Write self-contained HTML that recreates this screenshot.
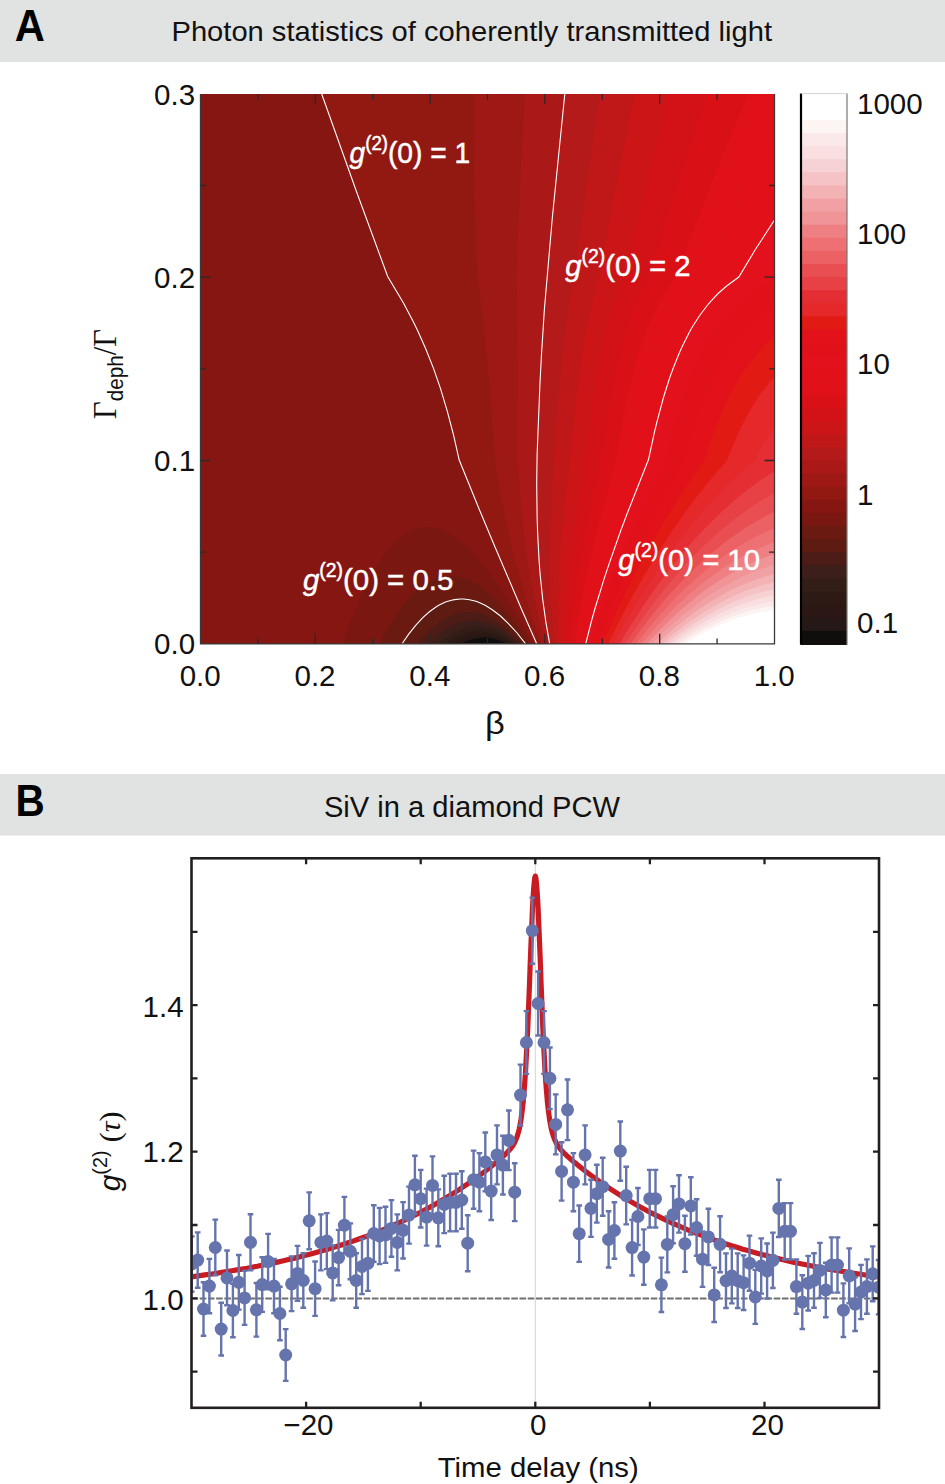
<!DOCTYPE html>
<html><head><meta charset="utf-8">
<style>
html,body{margin:0;padding:0;background:#fff;}
body{width:945px;height:1484px;overflow:hidden;position:relative;}
svg{position:absolute;left:0;top:0;}
text{font-family:"Liberation Sans",sans-serif;}
</style></head><body>
<svg width="945" height="1484" viewBox="0 0 945 1484">
<rect x="0" y="0" width="945" height="62" fill="#E1E2E2"/>
<rect x="0" y="774" width="945" height="61.5" fill="#E1E2E2"/>
<rect x="200.5" y="94.0" width="574.0" height="549.8" fill="#0F0E0C"/>
<path fill="#251816" fill-rule="evenodd" d="M200.5 94.0 774.5 94.0 774.5 643.8 507.2 643.8 501.5 641.2 495.5 639.2 489.5 638.0 483.8 637.6 478.0 638.0 472.0 639.2 466.0 641.2 460.3 643.8 200.5 643.8Z"/>
<path fill="#2B1814" fill-rule="evenodd" d="M200.5 94.0 774.5 94.0 774.5 643.8 509.2 643.8 502.8 640.4 496.0 637.9 489.5 636.4 482.8 635.9 476.0 636.4 469.5 637.8 462.8 640.4 456.2 643.8 200.5 643.8Z"/>
<path fill="#2E1A14" fill-rule="evenodd" d="M200.5 94.0 774.5 94.0 774.5 643.8 511.5 643.8 504.0 639.4 500.2 637.6 496.2 636.1 492.5 635.0 488.8 634.2 485.0 633.8 481.2 633.6 477.5 633.8 473.8 634.2 470.0 635.0 466.2 636.1 458.8 639.3 451.3 643.8 200.5 643.8Z"/>
<path fill="#331D17" fill-rule="evenodd" d="M200.5 94.0 774.5 94.0 774.5 643.8 513.9 643.8 509.5 640.6 505.2 638.0 501.0 635.7 496.8 633.9 492.5 632.4 488.2 631.4 483.8 630.7 479.5 630.5 475.2 630.7 470.8 631.4 466.5 632.4 462.2 633.9 458.0 635.7 453.8 638.0 449.5 640.7 445.3 643.8 200.5 643.8Z"/>
<path fill="#3C1E1A" fill-rule="evenodd" d="M200.5 94.0 774.5 94.0 774.5 643.8 516.5 643.8 511.5 639.7 506.5 636.1 501.5 633.1 496.5 630.6 491.5 628.7 486.8 627.4 482.0 626.6 477.0 626.3 472.0 626.6 467.2 627.4 462.5 628.7 457.5 630.7 452.5 633.2 447.8 636.2 443.0 639.6 438.1 643.8 200.5 643.8Z"/>
<path fill="#4D1C17" fill-rule="evenodd" d="M200.5 94.0 774.5 94.0 774.5 643.8 519.4 643.8 513.5 638.3 507.8 633.6 502.0 629.6 496.2 626.3 490.5 623.7 484.8 621.9 479.2 620.8 473.5 620.5 467.8 620.9 462.2 622.0 456.8 623.8 451.2 626.3 445.5 629.7 440.0 633.7 434.5 638.4 429.0 643.8 200.5 643.8Z"/>
<path fill="#5E1B12" fill-rule="evenodd" d="M200.5 94.0 774.5 94.0 774.5 643.8 522.4 643.8 515.5 636.3 508.8 629.9 502.0 624.4 495.2 619.9 488.5 616.4 482.0 614.0 475.2 612.4 468.8 611.9 462.2 612.4 455.8 613.9 449.2 616.5 443.0 619.8 436.5 624.4 430.2 629.8 423.8 636.3 417.4 643.8 200.5 643.8Z"/>
<path fill="#6B1A12" fill-rule="evenodd" d="M200.5 94.0 774.5 94.0 774.5 643.8 525.7 643.8 517.2 633.1 509.0 624.0 501.0 616.4 493.0 610.1 485.0 605.1 481.0 603.1 477.2 601.6 473.2 600.4 469.5 599.5 465.5 598.9 461.8 598.8 458.0 598.9 454.0 599.5 450.2 600.3 446.5 601.5 442.8 603.1 439.0 605.0 435.2 607.3 431.5 609.9 424.0 616.3 416.6 624.0 409.2 633.2 401.9 643.8 200.5 643.8Z"/>
<path fill="#7A1710" fill-rule="evenodd" d="M200.5 94.0 774.5 94.0 774.5 643.8 529.2 643.8 518.2 627.6 507.8 613.7 497.7 602.3 492.8 597.3 487.8 592.8 482.8 588.8 478.0 585.4 473.2 582.6 468.5 580.2 463.8 578.4 459.2 577.1 454.5 576.3 450.0 576.1 445.5 576.3 441.0 577.1 436.5 578.4 432.0 580.2 427.5 582.6 423.0 585.5 418.5 589.0 414.2 592.8 409.9 597.3 405.5 602.3 401.2 607.8 396.8 614.0 388.2 627.8 379.6 643.8 200.5 643.8Z"/>
<path fill="#861612" fill-rule="evenodd" d="M200.5 94.0 774.5 94.0 774.5 643.8 532.8 643.8 517.0 615.4 509.5 602.9 502.2 591.4 495.0 580.7 488.2 571.3 481.5 562.7 475.0 555.2 468.8 548.7 462.5 542.9 456.2 538.0 450.2 534.0 444.2 530.9 438.5 528.7 432.8 527.4 427.0 527.0 421.2 527.5 415.8 528.8 410.3 531.0 404.8 534.2 399.3 538.3 394.0 543.3 388.8 549.1 383.5 555.9 378.2 563.7 373.1 572.3 368.0 581.8 362.9 592.3 357.8 603.8 352.9 616.0 347.9 629.3 342.8 643.8 200.5 643.8Z"/>
<path fill="#921812" fill-rule="evenodd" d="M321.7 94.0 774.5 94.0 774.5 643.8 536.7 643.8 517.4 599.5 498.1 554.5 478.6 507.8 459.3 460.5 453.5 434.8 447.2 410.8 440.2 387.8 432.8 366.4 428.2 354.9 423.2 343.0 418.2 332.0 412.8 320.6 407.0 309.6 401.0 298.7 394.8 288.1 388.0 277.3 354.9 187.3Z"/>
<path fill="#9E1816" fill-rule="evenodd" d="M473.5 94.0 774.5 94.0 774.5 643.8 540.9 643.8 533.2 621.5 526.2 599.3 519.7 577.0 513.9 554.8 508.4 531.8 503.4 508.5 498.9 484.8 494.9 460.5 491.3 408.8 487.3 362.0 482.7 318.5 477.4 277.3 475.6 235.5 474.4 191.3 473.7 144.0Z"/>
<path fill="#AA1817" fill-rule="evenodd" d="M524.8 94.0 774.5 94.0 774.5 643.8 545.2 643.8 539.9 623.5 535.3 603.0 531.2 581.8 527.5 559.5 524.4 536.5 521.8 512.5 519.6 487.3 517.9 460.5 517.3 359.3 516.5 277.3 517.9 236.0 519.7 192.3 522.0 145.0Z"/>
<path fill="#B31A19" fill-rule="evenodd" d="M564.4 94.0 774.5 94.0 774.5 643.8 549.7 643.8 546.2 624.8 543.3 604.8 540.9 584.0 539.0 562.0 537.7 538.5 536.9 514.0 536.6 488.3 536.8 460.5 538.4 415.5 540.2 374.5 542.2 338.5 544.4 306.3 549.4 247.0 553.4 203.0 558.6 150.0Z"/>
<path fill="#C01718" fill-rule="evenodd" d="M599.8 94.0 774.5 94.0 774.5 643.8 554.4 643.8 552.0 621.5 550.4 598.0 549.6 572.5 549.7 545.3 550.4 519.0 551.7 490.8 555.6 432.5 558.2 398.5 562.1 356.3 566.5 319.9 569.9 297.5 573.6 277.3 585.3 191.8Z"/>
<path fill="#CB1517" fill-rule="evenodd" d="M634.0 94.0 774.5 94.0 774.5 643.8 559.3 643.8 558.4 622.5 558.3 599.3 559.1 574.3 560.7 547.3 562.5 525.8 564.7 503.5 569.8 460.5 572.3 433.3 574.9 408.3 579.1 374.0 583.0 347.5 587.2 323.8 590.0 310.8 592.8 298.8 595.7 287.5 598.8 277.3 615.0 190.3Z"/>
<path fill="#D31217" fill-rule="evenodd" d="M668.9 94.0 774.5 94.0 774.5 643.8 564.3 643.8 564.7 623.8 565.9 602.3 567.9 579.0 570.7 553.8 573.6 532.5 576.9 509.8 580.8 486.0 585.3 460.5 589.0 428.5 593.0 399.5 596.1 380.0 599.4 362.0 604.8 336.3 607.6 324.8 610.6 313.8 613.6 303.8 616.9 294.3 620.2 285.5 623.8 277.3 634.1 233.5 645.1 188.3 656.8 141.5Z"/>
<path fill="#D91117" fill-rule="evenodd" d="M774.5 94.0 774.5 643.8 569.5 643.8 570.9 625.3 573.1 605.5 576.1 584.3 579.8 561.3 584.0 538.2 588.9 513.8 594.4 488.0 600.7 460.5 605.0 430.0 609.5 402.3 614.3 377.3 619.5 354.5 622.8 342.3 626.1 330.8 629.5 320.3 633.1 310.3 636.9 301.0 640.8 292.5 644.9 284.5 649.2 277.3 662.8 231.4 676.7 185.8 691.4 139.5 706.3 94.0Z"/>
<path fill="#E01119" fill-rule="evenodd" d="M774.5 94.0 774.5 643.8 574.8 643.8 577.3 625.5 580.6 605.8 584.7 584.5 589.7 561.5 595.2 538.1 601.5 513.5 608.4 487.8 616.1 460.5 619.7 438.3 623.5 417.5 627.4 398.3 631.5 380.5 634.7 368.0 638.0 356.0 641.5 344.9 645.2 334.3 648.5 325.5 652.0 317.2 655.7 309.3 659.4 302.0 663.2 295.2 667.3 288.8 671.6 282.8 676.0 277.3 693.8 229.2 711.8 182.8 730.2 137.4 748.8 94.0Z"/>
<path fill="#E11019" fill-rule="evenodd" d="M774.5 139.9 774.5 643.8 580.2 643.8 583.2 627.9 587.0 610.8 591.3 592.8 596.3 573.8 603.8 547.5 612.3 519.5 621.8 490.4 631.9 460.5 638.4 426.8 641.8 411.3 645.3 396.8 649.0 383.1 652.8 370.3 656.8 358.2 660.9 346.8 665.5 335.5 670.3 325.0 675.4 315.3 680.8 306.3 686.4 298.0 692.3 290.5 698.5 283.6 705.2 277.3 722.5 239.9 739.8 204.8 757.0 171.6Z"/>
<path fill="#E2111B" fill-rule="evenodd" d="M774.5 220.0 774.5 643.8 585.7 643.8 590.5 624.7 596.2 604.3 603.0 582.4 610.5 559.7 618.9 535.8 628.1 511.0 638.0 485.7 648.3 460.5 651.8 443.8 655.5 427.8 659.2 412.7 663.2 398.5 667.2 385.3 671.5 372.8 675.9 361.3 680.5 350.3 685.4 339.8 690.5 330.2 696.0 321.0 701.6 312.8 709.8 302.4 714.2 297.5 718.7 293.0 723.3 288.8 728.2 284.7 738.6 277.3 756.5 247.7Z"/>
<path fill="#E1111A" fill-rule="evenodd" d="M774.5 279.9 774.5 643.8 591.3 643.8 597.4 623.8 604.8 602.3 613.0 579.9 622.2 556.5 632.2 532.5 642.8 508.5 654.0 484.2 665.5 460.5 669.3 444.5 673.2 429.5 677.3 415.3 681.5 402.0 685.9 389.3 690.5 377.5 695.2 366.5 700.1 356.3 707.3 343.0 715.0 330.9 723.2 320.0 732.0 310.2 741.5 301.3 751.5 293.5 762.5 286.3Z"/>
<path fill="#E2111A" fill-rule="evenodd" d="M774.5 305.0 774.5 643.8 596.9 643.8 604.8 622.4 613.8 599.9 623.8 576.7 634.8 552.8 646.4 529.0 658.5 505.6 671.0 482.8 683.9 460.5 691.2 434.8 695.0 422.8 699.0 411.3 703.1 400.5 707.4 390.3 711.8 380.7 716.3 371.5 722.3 360.8 728.6 350.8 735.2 341.5 742.2 332.9 749.7 325.0 757.5 317.8 765.8 311.1Z"/>
<path fill="#E21A14" fill-rule="evenodd" d="M774.5 336.7 774.5 643.8 602.5 643.8 612.2 621.0 623.2 597.2 635.2 573.2 648.2 548.9 661.8 525.3 675.5 502.8 689.8 481.0 704.0 460.5 710.9 439.5 718.2 420.3 726.0 402.8 734.0 387.2 738.5 379.5 743.1 372.3 747.8 365.5 752.8 359.0 758.0 352.9 763.2 347.2 768.8 341.8Z"/>
<path fill="#E5282A" fill-rule="evenodd" d="M774.5 376.6 774.5 643.8 608.2 643.8 618.8 622.0 630.2 600.0 642.5 578.2 655.5 556.6 664.0 543.2 672.8 530.0 681.5 517.4 690.5 505.0 699.5 493.2 708.8 481.6 717.8 470.9 726.9 460.5 732.0 447.5 737.4 435.0 743.0 423.3 748.8 412.6 754.8 402.6 761.0 393.3 767.7 384.5Z"/>
<path fill="#E52E33" fill-rule="evenodd" d="M774.5 426.8 774.5 643.8 613.9 643.8 627.2 619.3 642.0 594.6 657.5 570.8 673.8 547.8 683.5 535.0 693.5 522.5 703.5 510.7 713.8 499.3 724.0 488.6 734.2 478.5 744.5 469.2 754.7 460.5 759.4 451.3 764.2 442.6 769.2 434.5Z"/>
<path fill="#E74045" fill-rule="evenodd" d="M774.5 471.2 774.5 643.8 619.5 643.8 627.9 629.8 636.8 615.7 645.8 602.1 655.2 588.5 664.8 575.7 674.5 563.2 684.2 551.3 694.2 539.8 704.2 529.0 714.2 518.9 724.2 509.4 734.2 500.5 744.2 492.3 754.2 484.7 764.2 477.7Z"/>
<path fill="#E84E52" fill-rule="evenodd" d="M774.5 493.1 774.5 643.8 625.1 643.8 633.5 631.0 642.2 618.4 651.0 606.4 660.2 594.4 669.5 583.0 678.8 572.2 688.2 561.7 697.8 551.8 707.2 542.5 716.8 533.8 726.5 525.5 736.0 517.9 745.5 510.9 755.2 504.3 765.0 498.3Z"/>
<path fill="#EC6264" fill-rule="evenodd" d="M774.5 511.8 774.5 643.8 630.7 643.8 639.0 632.2 647.5 621.0 656.2 610.0 665.0 599.6 673.8 589.8 682.8 580.2 691.8 571.1 701.0 562.4 710.2 554.1 719.2 546.7 728.5 539.5 737.8 532.9 746.8 527.0 756.0 521.4 765.2 516.3Z"/>
<path fill="#EE7072" fill-rule="evenodd" d="M774.5 528.0 774.5 643.8 636.1 643.8 644.2 633.5 652.5 623.5 661.0 613.7 669.5 604.4 678.0 595.6 686.8 587.1 695.2 579.3 704.0 571.7 712.8 564.6 721.5 558.0 730.2 551.8 739.2 546.0 748.0 540.8 756.8 536.1 765.5 531.9Z"/>
<path fill="#EE8083" fill-rule="evenodd" d="M774.5 542.0 774.5 643.8 641.5 643.8 649.5 634.4 657.5 625.5 665.5 617.0 673.8 608.7 682.0 600.9 690.5 593.3 699.0 586.1 707.2 579.6 715.5 573.5 724.0 567.6 732.2 562.4 740.8 557.4 749.2 552.9 757.5 548.9 766.0 545.2Z"/>
<path fill="#F09497" fill-rule="evenodd" d="M774.5 554.1 774.5 643.8 646.8 643.8 662.2 627.5 678.0 612.5 686.0 605.5 694.0 598.9 702.0 592.6 710.0 586.8 718.0 581.4 726.0 576.4 734.0 571.7 742.2 567.3 750.5 563.4 758.5 559.9 766.5 556.8Z"/>
<path fill="#F1A1A3" fill-rule="evenodd" d="M774.5 564.7 774.5 643.8 652.0 643.8 667.0 629.1 682.0 615.9 697.2 603.9 705.0 598.3 712.8 593.1 720.5 588.3 728.2 583.9 735.8 579.9 743.5 576.1 751.2 572.8 759.0 569.7 766.8 567.0Z"/>
<path fill="#F3B3B5" fill-rule="evenodd" d="M774.5 574.0 774.5 643.8 657.1 643.8 671.5 630.7 686.0 618.8 700.8 608.1 715.5 598.7 730.2 590.6 745.0 583.7 752.2 580.9 759.8 578.2 767.2 575.9Z"/>
<path fill="#F5C3C5" fill-rule="evenodd" d="M774.5 582.1 774.5 643.8 662.1 643.8 676.0 632.0 690.0 621.4 704.0 611.9 718.0 603.7 732.2 596.4 746.2 590.5 760.5 585.7Z"/>
<path fill="#F7D2D5" fill-rule="evenodd" d="M774.5 589.2 774.5 643.8 666.9 643.8 680.0 633.4 693.5 623.9 707.0 615.4 720.5 608.0 734.0 601.7 747.5 596.5 761.0 592.3Z"/>
<path fill="#F9DFE0" fill-rule="evenodd" d="M774.5 595.5 774.5 643.8 671.6 643.8 684.2 634.5 697.2 625.9 710.0 618.5 722.8 612.0 735.8 606.4 748.8 601.7 761.5 598.1Z"/>
<path fill="#FBE8E9" fill-rule="evenodd" d="M774.5 601.0 774.5 643.8 676.1 643.8 688.2 635.5 700.5 627.9 713.0 621.1 725.2 615.3 737.5 610.4 749.8 606.4 762.2 603.2Z"/>
<path fill="#FDF5F4" fill-rule="evenodd" d="M774.5 605.8 774.5 643.8 680.6 643.8 692.2 636.3 704.0 629.5 715.5 623.7 727.5 618.4 739.0 614.1 751.0 610.5 762.8 607.8Z"/>
<path fill="#FFFFFF" fill-rule="evenodd" d="M774.5 610.1 774.5 643.8 684.8 643.8 695.8 637.2 707.0 631.1 718.0 625.9 729.5 621.2 740.8 617.3 752.0 614.2 763.2 611.8Z"/>
<path fill="#FFFFFF" fill-rule="evenodd" d="M774.5 613.9 774.5 643.8 689.0 643.8 699.8 637.7 710.2 632.4 721.0 627.7 731.5 623.7 742.2 620.2 753.0 617.4 763.8 615.3Z"/>
<path fill="none" stroke="#fff" stroke-width="1.1" d="M525.6 643.8 516.7 632.5 508.2 623.3 500.5 616.0 493.0 610.2 485.6 605.5 479.2 602.5 475.9 601.3 469.5 599.7 463.5 599.0 460.5 599.0 454.5 599.6 451.5 600.2 445.5 602.1 439.2 605.1 436.0 607.0 429.4 611.8 422.8 617.7 415.7 625.3 408.5 634.4 402.1 643.8M536.7 643.8 522.0 610.2 494.9 546.8 479.1 509.0 459.2 460.0 453.4 434.5 447.2 410.8 440.6 388.8 433.5 368.4 425.8 349.0 417.7 330.8 413.2 321.6 403.6 303.3 387.7 276.5 356.9 192.8 321.7 94.0M549.7 643.8 545.9 622.3 542.7 599.3 540.1 574.3 539.1 561.0 537.6 532.3 537.1 516.8 536.7 483.3 537.1 455.0 539.9 384.8 541.4 356.0 544.4 309.0 552.4 217.0 564.8 94.0M585.7 643.8 591.6 620.5 595.3 607.5 604.0 579.2 609.1 563.8 620.6 531.0 627.1 513.8 648.5 459.5 654.5 431.8 657.6 419.3 663.6 397.0 669.8 377.5 673.0 368.7 679.4 352.8 682.7 345.5 689.2 332.5 692.6 326.5 699.5 315.7 706.8 306.0 710.5 301.6 718.1 293.5 726.3 286.3 738.8 277.0 755.2 249.8 774.5 220.0"/>
<rect x="801" y="93.50" width="46" height="551.30" fill="#FFFFFF"/>
<rect x="801" y="106.80" width="46" height="538.00" fill="#FFFFFF"/>
<rect x="801" y="119.90" width="46" height="524.90" fill="#FDF5F4"/>
<rect x="801" y="133.00" width="46" height="511.80" fill="#FBE8E9"/>
<rect x="801" y="146.10" width="46" height="498.70" fill="#F9DFE0"/>
<rect x="801" y="159.20" width="46" height="485.60" fill="#F7D2D5"/>
<rect x="801" y="172.30" width="46" height="472.50" fill="#F5C3C5"/>
<rect x="801" y="185.40" width="46" height="459.40" fill="#F3B3B5"/>
<rect x="801" y="198.50" width="46" height="446.30" fill="#F1A1A3"/>
<rect x="801" y="211.60" width="46" height="433.20" fill="#F09497"/>
<rect x="801" y="224.70" width="46" height="420.10" fill="#EE8083"/>
<rect x="801" y="237.80" width="46" height="407.00" fill="#EE7072"/>
<rect x="801" y="250.90" width="46" height="393.90" fill="#EC6264"/>
<rect x="801" y="264.00" width="46" height="380.80" fill="#E84E52"/>
<rect x="801" y="277.10" width="46" height="367.70" fill="#E74045"/>
<rect x="801" y="290.20" width="46" height="354.60" fill="#E52E33"/>
<rect x="801" y="303.30" width="46" height="341.50" fill="#E5282A"/>
<rect x="801" y="316.40" width="46" height="328.40" fill="#E21A14"/>
<rect x="801" y="329.50" width="46" height="315.30" fill="#E2111A"/>
<rect x="801" y="342.60" width="46" height="302.20" fill="#E1111A"/>
<rect x="801" y="355.70" width="46" height="289.10" fill="#E2111B"/>
<rect x="801" y="368.80" width="46" height="276.00" fill="#E11019"/>
<rect x="801" y="381.90" width="46" height="262.90" fill="#E01119"/>
<rect x="801" y="395.00" width="46" height="249.80" fill="#D91117"/>
<rect x="801" y="408.10" width="46" height="236.70" fill="#D31217"/>
<rect x="801" y="421.20" width="46" height="223.60" fill="#CB1517"/>
<rect x="801" y="434.30" width="46" height="210.50" fill="#C01718"/>
<rect x="801" y="447.40" width="46" height="197.40" fill="#B31A19"/>
<rect x="801" y="460.50" width="46" height="184.30" fill="#AA1817"/>
<rect x="801" y="473.60" width="46" height="171.20" fill="#9E1816"/>
<rect x="801" y="486.70" width="46" height="158.10" fill="#921812"/>
<rect x="801" y="499.80" width="46" height="145.00" fill="#861612"/>
<rect x="801" y="512.90" width="46" height="131.90" fill="#7A1710"/>
<rect x="801" y="526.00" width="46" height="118.80" fill="#6B1A12"/>
<rect x="801" y="539.10" width="46" height="105.70" fill="#5E1B12"/>
<rect x="801" y="552.20" width="46" height="92.60" fill="#4D1C17"/>
<rect x="801" y="565.30" width="46" height="79.50" fill="#3C1E1A"/>
<rect x="801" y="578.40" width="46" height="66.40" fill="#331D17"/>
<rect x="801" y="591.50" width="46" height="53.30" fill="#2E1A14"/>
<rect x="801" y="604.60" width="46" height="40.20" fill="#2B1814"/>
<rect x="801" y="617.70" width="46" height="27.10" fill="#251816"/>
<rect x="801" y="630.80" width="46" height="14.00" fill="#0F0E0C"/>
<path d="M200.5 94V643.8H774.5V94" fill="none" stroke="#3a3a3a" stroke-width="1.3"/>
<path d="M257.9 643.8v-5.4M257.9 94v5.4M315.3 643.8v-10M315.3 94v10M372.7 643.8v-5.4M372.7 94v5.4M430.1 643.8v-10M430.1 94v10M487.5 643.8v-5.4M487.5 94v5.4M544.9 643.8v-10M544.9 94v10M602.3 643.8v-5.4M602.3 94v5.4M659.7 643.8v-10M659.7 94v10M717.1 643.8v-5.4M717.1 94v5.4M200.5 552.1h5.4M774.5 552.1h-5.4M200.5 460.5h10M774.5 460.5h-10M200.5 368.8h5.4M774.5 368.8h-5.4M200.5 277.1h10M774.5 277.1h-10M200.5 185.5h5.4M774.5 185.5h-5.4" stroke="#2a2a2a" stroke-width="1.3" fill="none"/>
<path d="M801 93.5V644.8" stroke="#000" stroke-width="2.2"/>
<path d="M847 93.5V644.8" stroke="#777" stroke-width="1.2"/>
<path d="M801 93.6H847" stroke="#c8c8c8" stroke-width="0.8"/>

<defs><clipPath id="cb"><rect x="191.5" y="858.3" width="687.5" height="549.5"/></clipPath></defs>
<line x1="535.3" y1="858.3" x2="535.3" y2="1407.8" stroke="#d4d4d4" stroke-width="1"/>
<line x1="191.5" y1="1298.6" x2="879" y2="1298.6" stroke="#707070" stroke-width="2" stroke-dasharray="6.6 1.6"/>
<g clip-path="url(#cb)">
<path d="M191.5 1276.8 196.6 1276.1 201.6 1275.4 206.7 1274.7 211.7 1274.0 216.8 1273.2 221.8 1272.4 226.9 1271.6 231.9 1270.8 237.0 1269.9 242.0 1269.1 247.1 1268.2 252.1 1267.2 257.2 1266.3 262.2 1265.3 267.3 1264.2 272.3 1263.2 277.4 1262.1 282.4 1261.0 287.5 1259.8 292.5 1258.6 297.6 1257.4 302.6 1256.1 307.7 1254.8 312.7 1253.5 317.8 1252.1 322.8 1250.6 327.9 1249.2 332.9 1247.6 338.0 1246.1 343.0 1244.5 348.1 1242.8 353.1 1241.1 358.2 1239.3 363.2 1237.5 368.3 1235.6 373.3 1233.6 378.4 1231.6 383.4 1229.6 388.5 1227.4 393.5 1225.2 398.6 1223.0 403.6 1220.6 408.7 1218.2 413.7 1215.7 418.8 1213.2 423.8 1210.5 428.9 1207.8 433.9 1205.0 439.0 1202.1 444.0 1199.1 449.1 1196.0 454.1 1192.9 459.2 1189.6 464.2 1186.2 469.3 1182.8 474.3 1179.2 479.4 1175.5 484.4 1171.7 489.5 1167.7 490.0 1167.3 490.6 1166.8 491.2 1166.4 491.8 1165.9 492.3 1165.5 492.9 1165.0 493.5 1164.5 494.0 1164.1 494.6 1163.6 495.2 1163.1 495.8 1162.6 496.3 1162.2 496.9 1161.7 497.5 1161.2 498.1 1160.7 498.6 1160.2 499.2 1159.8 499.8 1159.3 500.3 1158.8 500.9 1158.3 501.5 1157.8 502.1 1157.3 502.6 1156.7 503.2 1156.2 503.8 1155.7 504.4 1155.2 504.9 1154.6 505.5 1154.1 506.1 1153.5 506.6 1153.0 507.2 1152.4 507.8 1151.8 508.4 1151.2 508.9 1150.5 509.5 1149.9 510.1 1149.2 510.7 1148.5 511.2 1147.8 511.8 1147.0 512.4 1146.2 513.0 1145.3 513.5 1144.4 514.1 1143.3 514.7 1142.3 515.2 1141.1 515.8 1139.8 516.4 1138.4 517.0 1136.9 517.5 1135.2 518.1 1133.3 518.7 1131.1 519.3 1128.8 519.8 1126.1 520.4 1123.1 521.0 1119.7 521.5 1115.8 522.1 1111.4 522.7 1106.5 523.3 1100.9 523.8 1094.5 524.4 1087.4 525.0 1079.4 525.6 1070.4 526.1 1060.5 526.7 1049.6 527.3 1037.7 527.9 1024.8 528.4 1011.1 529.0 996.6 529.6 981.7 530.1 966.5 530.7 951.4 531.3 936.7 531.9 922.7 532.4 910.0 533.0 898.8 533.6 889.6 534.2 882.6 534.7 878.0 535.3 876.1 535.9 878.0 536.4 882.6 537.0 889.6 537.6 898.8 538.2 910.0 538.7 922.7 539.3 936.7 539.9 951.4 540.5 966.5 541.0 981.7 541.6 996.6 542.2 1011.1 542.7 1024.8 543.3 1037.7 543.9 1049.6 544.5 1060.5 545.0 1070.4 545.6 1079.4 546.2 1087.4 546.8 1094.5 547.3 1100.9 547.9 1106.5 548.5 1111.4 549.1 1115.8 549.6 1119.7 550.2 1123.1 550.8 1126.1 551.3 1128.8 551.9 1131.1 552.5 1133.3 553.1 1135.2 553.6 1136.9 554.2 1138.4 554.8 1139.8 555.4 1141.1 555.9 1142.3 556.5 1143.3 557.1 1144.4 557.6 1145.3 558.2 1146.2 558.8 1147.0 559.4 1147.8 559.9 1148.5 560.5 1149.2 561.1 1149.9 561.7 1150.5 562.2 1151.2 562.8 1151.8 563.4 1152.4 563.9 1153.0 564.5 1153.5 565.1 1154.1 565.7 1154.6 566.2 1155.2 566.8 1155.7 567.4 1156.2 568.0 1156.7 568.5 1157.3 569.1 1157.8 569.7 1158.3 570.3 1158.8 570.8 1159.3 571.4 1159.8 572.0 1160.2 572.5 1160.7 573.1 1161.2 573.7 1161.7 574.3 1162.2 574.8 1162.6 575.4 1163.1 576.0 1163.6 576.6 1164.1 577.1 1164.5 577.7 1165.0 578.3 1165.5 578.8 1165.9 579.4 1166.4 580.0 1166.8 580.6 1167.3 581.1 1167.7 586.2 1171.7 591.2 1175.5 596.3 1179.2 601.3 1182.8 606.4 1186.2 611.4 1189.6 616.5 1192.9 621.5 1196.0 626.6 1199.1 631.6 1202.1 636.7 1205.0 641.7 1207.8 646.8 1210.5 651.8 1213.2 656.9 1215.7 661.9 1218.2 667.0 1220.6 672.0 1223.0 677.1 1225.2 682.1 1227.4 687.2 1229.6 692.2 1231.6 697.3 1233.6 702.3 1235.6 707.4 1237.5 712.4 1239.3 717.5 1241.1 722.5 1242.8 727.6 1244.5 732.6 1246.1 737.7 1247.6 742.7 1249.2 747.8 1250.6 752.8 1252.1 757.9 1253.5 762.9 1254.8 768.0 1256.1 773.0 1257.4 778.1 1258.6 783.1 1259.8 788.2 1261.0 793.2 1262.1 798.3 1263.2 803.3 1264.2 808.4 1265.3 813.4 1266.3 818.5 1267.2 823.5 1268.2 828.6 1269.1 833.6 1269.9 838.7 1270.8 843.7 1271.6 848.8 1272.4 853.8 1273.2 858.9 1274.0 863.9 1274.7 869.0 1275.4 874.0 1276.1 879.1 1276.8" fill="none" stroke="#C81B22" stroke-width="5.2" stroke-linejoin="round"/>
<path d="M191.8 1236.4V1291.6M197.7 1232.4V1287.8M203.5 1282.2V1335.8M209.4 1258.9V1313.3M215.3 1219.6V1275.4M221.2 1302.7V1355.5M227.0 1250.5V1305.3M232.9 1283.7V1337.3M238.8 1255.0V1309.6M244.6 1270.9V1324.9M250.5 1214.3V1270.3M256.4 1283.0V1336.6M262.2 1257.3V1311.9M268.1 1233.9V1289.3M274.0 1258.9V1313.3M279.9 1286.8V1340.2M285.7 1329.1V1380.9M291.6 1256.5V1311.1M297.5 1245.9V1300.9M303.3 1253.2V1307.8M309.2 1192.4V1249.2M315.1 1261.5V1315.9M320.9 1214.4V1270.4M326.8 1213.1V1269.1M332.7 1245.4V1300.4M338.6 1229.9V1285.3M344.4 1196.9V1253.5M350.3 1223.4V1279.2M356.2 1253.2V1307.8M362.0 1238.9V1294.1M367.9 1235.7V1290.9M373.8 1205.3V1261.7M379.6 1207.9V1264.1M385.5 1206.7V1262.9M391.4 1200.1V1256.7M397.3 1214.4V1270.4M403.1 1202.1V1258.5M409.0 1186.6V1243.6M414.9 1155.8V1213.8M420.7 1169.9V1227.5M426.6 1188.6V1245.6M432.5 1156.4V1214.4M438.3 1189.4V1246.2M444.2 1175.7V1233.1M450.1 1173.8V1231.2M456.0 1173.8V1231.2M461.8 1171.2V1228.8M467.7 1215.2V1271.2M473.6 1150.6V1208.8M479.4 1153.1V1211.3M485.3 1132.5V1191.3M491.2 1162.2V1220.0M497.0 1125.4V1184.4M502.9 1135.7V1194.5M508.8 1110.5V1170.1M514.7 1163.3V1221.1M520.5 1064.6V1125.6M526.4 1011.1V1073.9M532.3 897.6V963.8M538.1 971.5V1035.5M544.0 1011.1V1073.9M549.9 1047.5V1109.1M555.7 1094.4V1154.4M561.6 1142.2V1200.6M567.5 1079.5V1140.1M573.4 1153.1V1211.3M579.2 1205.5V1261.9M585.1 1125.4V1184.4M591.0 1179.7V1236.9M596.8 1164.8V1222.6M602.7 1157.7V1215.7M608.6 1211.3V1267.5M614.4 1202.3V1258.7M620.3 1121.5V1180.7M626.2 1166.8V1224.4M632.1 1219.7V1275.5M637.9 1188.0V1245.0M643.8 1229.4V1284.8M649.7 1169.9V1227.5M655.5 1169.9V1227.5M661.4 1257.6V1312.0M667.3 1216.4V1272.4M673.1 1186.2V1243.2M679.0 1175.2V1232.6M684.9 1215.7V1271.7M690.8 1177.2V1234.6M696.6 1199.2V1255.8M702.5 1231.5V1286.9M708.4 1208.8V1265.0M714.2 1267.8V1322.0M720.1 1216.3V1272.3M726.0 1253.4V1308.0M731.8 1248.6V1303.4M737.7 1253.4V1308.0M743.6 1255.4V1310.0M749.5 1235.6V1290.8M755.3 1269.9V1323.9M761.2 1238.4V1293.6M767.1 1243.5V1298.5M772.9 1232.6V1288.0M778.8 1179.8V1237.0M784.7 1203.1V1259.5M790.5 1203.1V1259.5M796.4 1259.4V1313.8M802.3 1275.2V1329.0M808.2 1255.9V1310.5M814.0 1253.2V1307.8M819.9 1242.9V1297.9M825.8 1262.8V1317.2M831.6 1237.4V1292.6M837.5 1237.4V1292.6M843.4 1283.4V1337.0M849.2 1248.4V1303.2M855.1 1277.2V1331.0M861.0 1264.9V1319.1M866.9 1259.4V1313.8M872.7 1246.4V1301.2M878.6 1260.0V1314.4M189.0 1236.4h5.6M189.0 1291.6h5.6M194.9 1232.4h5.6M194.9 1287.8h5.6M200.7 1282.2h5.6M200.7 1335.8h5.6M206.6 1258.9h5.6M206.6 1313.3h5.6M212.5 1219.6h5.6M212.5 1275.4h5.6M218.4 1302.7h5.6M218.4 1355.5h5.6M224.2 1250.5h5.6M224.2 1305.3h5.6M230.1 1283.7h5.6M230.1 1337.3h5.6M236.0 1255.0h5.6M236.0 1309.6h5.6M241.8 1270.9h5.6M241.8 1324.9h5.6M247.7 1214.3h5.6M247.7 1270.3h5.6M253.6 1283.0h5.6M253.6 1336.6h5.6M259.4 1257.3h5.6M259.4 1311.9h5.6M265.3 1233.9h5.6M265.3 1289.3h5.6M271.2 1258.9h5.6M271.2 1313.3h5.6M277.1 1286.8h5.6M277.1 1340.2h5.6M282.9 1329.1h5.6M282.9 1380.9h5.6M288.8 1256.5h5.6M288.8 1311.1h5.6M294.7 1245.9h5.6M294.7 1300.9h5.6M300.5 1253.2h5.6M300.5 1307.8h5.6M306.4 1192.4h5.6M306.4 1249.2h5.6M312.3 1261.5h5.6M312.3 1315.9h5.6M318.1 1214.4h5.6M318.1 1270.4h5.6M324.0 1213.1h5.6M324.0 1269.1h5.6M329.9 1245.4h5.6M329.9 1300.4h5.6M335.8 1229.9h5.6M335.8 1285.3h5.6M341.6 1196.9h5.6M341.6 1253.5h5.6M347.5 1223.4h5.6M347.5 1279.2h5.6M353.4 1253.2h5.6M353.4 1307.8h5.6M359.2 1238.9h5.6M359.2 1294.1h5.6M365.1 1235.7h5.6M365.1 1290.9h5.6M371.0 1205.3h5.6M371.0 1261.7h5.6M376.8 1207.9h5.6M376.8 1264.1h5.6M382.7 1206.7h5.6M382.7 1262.9h5.6M388.6 1200.1h5.6M388.6 1256.7h5.6M394.5 1214.4h5.6M394.5 1270.4h5.6M400.3 1202.1h5.6M400.3 1258.5h5.6M406.2 1186.6h5.6M406.2 1243.6h5.6M412.1 1155.8h5.6M412.1 1213.8h5.6M417.9 1169.9h5.6M417.9 1227.5h5.6M423.8 1188.6h5.6M423.8 1245.6h5.6M429.7 1156.4h5.6M429.7 1214.4h5.6M435.5 1189.4h5.6M435.5 1246.2h5.6M441.4 1175.7h5.6M441.4 1233.1h5.6M447.3 1173.8h5.6M447.3 1231.2h5.6M453.2 1173.8h5.6M453.2 1231.2h5.6M459.0 1171.2h5.6M459.0 1228.8h5.6M464.9 1215.2h5.6M464.9 1271.2h5.6M470.8 1150.6h5.6M470.8 1208.8h5.6M476.6 1153.1h5.6M476.6 1211.3h5.6M482.5 1132.5h5.6M482.5 1191.3h5.6M488.4 1162.2h5.6M488.4 1220.0h5.6M494.2 1125.4h5.6M494.2 1184.4h5.6M500.1 1135.7h5.6M500.1 1194.5h5.6M506.0 1110.5h5.6M506.0 1170.1h5.6M511.9 1163.3h5.6M511.9 1221.1h5.6M517.7 1064.6h5.6M517.7 1125.6h5.6M523.6 1011.1h5.6M523.6 1073.9h5.6M529.5 897.6h5.6M529.5 963.8h5.6M535.3 971.5h5.6M535.3 1035.5h5.6M541.2 1011.1h5.6M541.2 1073.9h5.6M547.1 1047.5h5.6M547.1 1109.1h5.6M552.9 1094.4h5.6M552.9 1154.4h5.6M558.8 1142.2h5.6M558.8 1200.6h5.6M564.7 1079.5h5.6M564.7 1140.1h5.6M570.6 1153.1h5.6M570.6 1211.3h5.6M576.4 1205.5h5.6M576.4 1261.9h5.6M582.3 1125.4h5.6M582.3 1184.4h5.6M588.2 1179.7h5.6M588.2 1236.9h5.6M594.0 1164.8h5.6M594.0 1222.6h5.6M599.9 1157.7h5.6M599.9 1215.7h5.6M605.8 1211.3h5.6M605.8 1267.5h5.6M611.6 1202.3h5.6M611.6 1258.7h5.6M617.5 1121.5h5.6M617.5 1180.7h5.6M623.4 1166.8h5.6M623.4 1224.4h5.6M629.3 1219.7h5.6M629.3 1275.5h5.6M635.1 1188.0h5.6M635.1 1245.0h5.6M641.0 1229.4h5.6M641.0 1284.8h5.6M646.9 1169.9h5.6M646.9 1227.5h5.6M652.7 1169.9h5.6M652.7 1227.5h5.6M658.6 1257.6h5.6M658.6 1312.0h5.6M664.5 1216.4h5.6M664.5 1272.4h5.6M670.3 1186.2h5.6M670.3 1243.2h5.6M676.2 1175.2h5.6M676.2 1232.6h5.6M682.1 1215.7h5.6M682.1 1271.7h5.6M688.0 1177.2h5.6M688.0 1234.6h5.6M693.8 1199.2h5.6M693.8 1255.8h5.6M699.7 1231.5h5.6M699.7 1286.9h5.6M705.6 1208.8h5.6M705.6 1265.0h5.6M711.4 1267.8h5.6M711.4 1322.0h5.6M717.3 1216.3h5.6M717.3 1272.3h5.6M723.2 1253.4h5.6M723.2 1308.0h5.6M729.0 1248.6h5.6M729.0 1303.4h5.6M734.9 1253.4h5.6M734.9 1308.0h5.6M740.8 1255.4h5.6M740.8 1310.0h5.6M746.7 1235.6h5.6M746.7 1290.8h5.6M752.5 1269.9h5.6M752.5 1323.9h5.6M758.4 1238.4h5.6M758.4 1293.6h5.6M764.3 1243.5h5.6M764.3 1298.5h5.6M770.1 1232.6h5.6M770.1 1288.0h5.6M776.0 1179.8h5.6M776.0 1237.0h5.6M781.9 1203.1h5.6M781.9 1259.5h5.6M787.7 1203.1h5.6M787.7 1259.5h5.6M793.6 1259.4h5.6M793.6 1313.8h5.6M799.5 1275.2h5.6M799.5 1329.0h5.6M805.4 1255.9h5.6M805.4 1310.5h5.6M811.2 1253.2h5.6M811.2 1307.8h5.6M817.1 1242.9h5.6M817.1 1297.9h5.6M823.0 1262.8h5.6M823.0 1317.2h5.6M828.8 1237.4h5.6M828.8 1292.6h5.6M834.7 1237.4h5.6M834.7 1292.6h5.6M840.6 1283.4h5.6M840.6 1337.0h5.6M846.4 1248.4h5.6M846.4 1303.2h5.6M852.3 1277.2h5.6M852.3 1331.0h5.6M858.2 1264.9h5.6M858.2 1319.1h5.6M864.1 1259.4h5.6M864.1 1313.8h5.6M869.9 1246.4h5.6M869.9 1301.2h5.6M875.8 1260.0h5.6M875.8 1314.4h5.6" stroke="#6574AC" stroke-width="2.4" fill="none"/>
<g fill="#6574AC"><circle cx="191.8" cy="1264.0" r="6.5"/><circle cx="197.7" cy="1260.1" r="6.5"/><circle cx="203.5" cy="1309.0" r="6.5"/><circle cx="209.4" cy="1286.1" r="6.5"/><circle cx="215.3" cy="1247.5" r="6.5"/><circle cx="221.2" cy="1329.1" r="6.5"/><circle cx="227.0" cy="1277.9" r="6.5"/><circle cx="232.9" cy="1310.5" r="6.5"/><circle cx="238.8" cy="1282.3" r="6.5"/><circle cx="244.6" cy="1297.9" r="6.5"/><circle cx="250.5" cy="1242.3" r="6.5"/><circle cx="256.4" cy="1309.8" r="6.5"/><circle cx="262.2" cy="1284.6" r="6.5"/><circle cx="268.1" cy="1261.6" r="6.5"/><circle cx="274.0" cy="1286.1" r="6.5"/><circle cx="279.9" cy="1313.5" r="6.5"/><circle cx="285.7" cy="1355.0" r="6.5"/><circle cx="291.6" cy="1283.8" r="6.5"/><circle cx="297.5" cy="1273.4" r="6.5"/><circle cx="303.3" cy="1280.5" r="6.5"/><circle cx="309.2" cy="1220.8" r="6.5"/><circle cx="315.1" cy="1288.7" r="6.5"/><circle cx="320.9" cy="1242.4" r="6.5"/><circle cx="326.8" cy="1241.1" r="6.5"/><circle cx="332.7" cy="1272.9" r="6.5"/><circle cx="338.6" cy="1257.6" r="6.5"/><circle cx="344.4" cy="1225.2" r="6.5"/><circle cx="350.3" cy="1251.3" r="6.5"/><circle cx="356.2" cy="1280.5" r="6.5"/><circle cx="362.0" cy="1266.5" r="6.5"/><circle cx="367.9" cy="1263.3" r="6.5"/><circle cx="373.8" cy="1233.5" r="6.5"/><circle cx="379.6" cy="1236.0" r="6.5"/><circle cx="385.5" cy="1234.8" r="6.5"/><circle cx="391.4" cy="1228.4" r="6.5"/><circle cx="397.3" cy="1242.4" r="6.5"/><circle cx="403.1" cy="1230.3" r="6.5"/><circle cx="409.0" cy="1215.1" r="6.5"/><circle cx="414.9" cy="1184.8" r="6.5"/><circle cx="420.7" cy="1198.7" r="6.5"/><circle cx="426.6" cy="1217.1" r="6.5"/><circle cx="432.5" cy="1185.4" r="6.5"/><circle cx="438.3" cy="1217.8" r="6.5"/><circle cx="444.2" cy="1204.4" r="6.5"/><circle cx="450.1" cy="1202.5" r="6.5"/><circle cx="456.0" cy="1202.5" r="6.5"/><circle cx="461.8" cy="1200.0" r="6.5"/><circle cx="467.7" cy="1243.2" r="6.5"/><circle cx="473.6" cy="1179.7" r="6.5"/><circle cx="479.4" cy="1182.2" r="6.5"/><circle cx="485.3" cy="1161.9" r="6.5"/><circle cx="491.2" cy="1191.1" r="6.5"/><circle cx="497.0" cy="1154.9" r="6.5"/><circle cx="502.9" cy="1165.1" r="6.5"/><circle cx="508.8" cy="1140.3" r="6.5"/><circle cx="514.7" cy="1192.2" r="6.5"/><circle cx="520.5" cy="1095.1" r="6.5"/><circle cx="526.4" cy="1042.5" r="6.5"/><circle cx="532.3" cy="930.7" r="6.5"/><circle cx="538.1" cy="1003.5" r="6.5"/><circle cx="544.0" cy="1042.5" r="6.5"/><circle cx="549.9" cy="1078.3" r="6.5"/><circle cx="555.7" cy="1124.4" r="6.5"/><circle cx="561.6" cy="1171.4" r="6.5"/><circle cx="567.5" cy="1109.8" r="6.5"/><circle cx="573.4" cy="1182.2" r="6.5"/><circle cx="579.2" cy="1233.7" r="6.5"/><circle cx="585.1" cy="1154.9" r="6.5"/><circle cx="591.0" cy="1208.3" r="6.5"/><circle cx="596.8" cy="1193.7" r="6.5"/><circle cx="602.7" cy="1186.7" r="6.5"/><circle cx="608.6" cy="1239.4" r="6.5"/><circle cx="614.4" cy="1230.5" r="6.5"/><circle cx="620.3" cy="1151.1" r="6.5"/><circle cx="626.2" cy="1195.6" r="6.5"/><circle cx="632.1" cy="1247.6" r="6.5"/><circle cx="637.9" cy="1216.5" r="6.5"/><circle cx="643.8" cy="1257.1" r="6.5"/><circle cx="649.7" cy="1198.7" r="6.5"/><circle cx="655.5" cy="1198.7" r="6.5"/><circle cx="661.4" cy="1284.8" r="6.5"/><circle cx="667.3" cy="1244.4" r="6.5"/><circle cx="673.1" cy="1214.7" r="6.5"/><circle cx="679.0" cy="1203.9" r="6.5"/><circle cx="684.9" cy="1243.7" r="6.5"/><circle cx="690.8" cy="1205.9" r="6.5"/><circle cx="696.6" cy="1227.5" r="6.5"/><circle cx="702.5" cy="1259.2" r="6.5"/><circle cx="708.4" cy="1236.9" r="6.5"/><circle cx="714.2" cy="1294.9" r="6.5"/><circle cx="720.1" cy="1244.3" r="6.5"/><circle cx="726.0" cy="1280.7" r="6.5"/><circle cx="731.8" cy="1276.0" r="6.5"/><circle cx="737.7" cy="1280.7" r="6.5"/><circle cx="743.6" cy="1282.7" r="6.5"/><circle cx="749.5" cy="1263.2" r="6.5"/><circle cx="755.3" cy="1296.9" r="6.5"/><circle cx="761.2" cy="1266.0" r="6.5"/><circle cx="767.1" cy="1271.0" r="6.5"/><circle cx="772.9" cy="1260.3" r="6.5"/><circle cx="778.8" cy="1208.4" r="6.5"/><circle cx="784.7" cy="1231.3" r="6.5"/><circle cx="790.5" cy="1231.3" r="6.5"/><circle cx="796.4" cy="1286.6" r="6.5"/><circle cx="802.3" cy="1302.1" r="6.5"/><circle cx="808.2" cy="1283.2" r="6.5"/><circle cx="814.0" cy="1280.5" r="6.5"/><circle cx="819.9" cy="1270.4" r="6.5"/><circle cx="825.8" cy="1290.0" r="6.5"/><circle cx="831.6" cy="1265.0" r="6.5"/><circle cx="837.5" cy="1265.0" r="6.5"/><circle cx="843.4" cy="1310.2" r="6.5"/><circle cx="849.2" cy="1275.8" r="6.5"/><circle cx="855.1" cy="1304.1" r="6.5"/><circle cx="861.0" cy="1292.0" r="6.5"/><circle cx="866.9" cy="1286.6" r="6.5"/><circle cx="872.7" cy="1273.8" r="6.5"/><circle cx="878.6" cy="1287.2" r="6.5"/></g>
</g>
<rect x="191.5" y="858.3" width="687.5" height="549.5" fill="none" stroke="#231F20" stroke-width="2.6"/>
<path d="M306.1 1407.8v-6M306.1 858.3v6M420.7 1407.8v-6M420.7 858.3v6M535.3 1407.8v-6M535.3 858.3v6M649.9 1407.8v-6M649.9 858.3v6M764.5 1407.8v-6M764.5 858.3v6M191.5 1371.6h6M879 1371.6h-6M191.5 1298.3h6M879 1298.3h-6M191.5 1225.0h6M879 1225.0h-6M191.5 1151.7h6M879 1151.7h-6M191.5 1078.4h6M879 1078.4h-6M191.5 1005.1h6M879 1005.1h-6M191.5 931.8h6M879 931.8h-6" stroke="#231F20" stroke-width="2.3" fill="none"/>
<text transform="matrix(0.4172 0 0 0.4450 14.85 40.95)" fill="#000" font-family="Liberation Sans" font-size="100" font-weight="bold">A</text>
<text transform="matrix(0.4048 0 0 0.4464 15.57 815.60)" fill="#000" font-family="Liberation Sans" font-size="100" font-weight="bold">B</text>
<text transform="matrix(0.2913 0 0 0.2819 171.47 40.58)" fill="#111" font-family="Liberation Sans" font-size="100">Photon statistics of coherently transmitted light</text>
<text transform="matrix(0.2912 0 0 0.2878 323.94 816.71)" fill="#111" font-family="Liberation Sans" font-size="100">SiV in a diamond PCW</text>
<text transform="matrix(0.2823 0 0 0.2973 349.50 162.86)" fill="#fff" stroke="#fff" stroke-width="1.6" font-family="Liberation Sans" font-size="100"><tspan font-style="italic">g</tspan><tspan font-size="66" dy="-42">(2)</tspan><tspan dy="42">(0) = 1</tspan></text>
<text transform="matrix(0.2931 0 0 0.2955 565.20 275.69)" fill="#fff" stroke="#fff" stroke-width="1.6" font-family="Liberation Sans" font-size="100"><tspan font-style="italic">g</tspan><tspan font-size="66" dy="-42">(2)</tspan><tspan dy="42">(0) = 2</tspan></text>
<text transform="matrix(0.2943 0 0 0.2982 302.90 589.74)" fill="#fff" stroke="#fff" stroke-width="1.6" font-family="Liberation Sans" font-size="100"><tspan font-style="italic">g</tspan><tspan font-size="66" dy="-42">(2)</tspan><tspan dy="42">(0) = 0.5</tspan></text>
<text transform="matrix(0.2929 0 0 0.2982 618.30 569.74)" fill="#fff" stroke="#fff" stroke-width="1.6" font-family="Liberation Sans" font-size="100"><tspan font-style="italic">g</tspan><tspan font-size="66" dy="-42">(2)</tspan><tspan dy="42">(0) = 10</tspan></text>
<text transform="matrix(0.2935 0 0 0.2809 437.71 1476.60)" fill="#111" font-family="Liberation Sans" font-size="100">Time delay (ns)</text>
<text transform="matrix(0.3439 0 0 0.3077 485.04 734.34)" fill="#111" font-family="Liberation Serif" font-size="100">β</text>
<text transform="matrix(0 -0.3048 0.3327 0 115.82 418.91)" fill="#111" font-size="100"><tspan font-family="Liberation Serif">Γ</tspan><tspan font-family="Liberation Sans" font-size="68" dy="22">deph</tspan><tspan font-family="Liberation Serif" dy="-22">/Γ</tspan></text>
<text transform="matrix(0 -0.2996 0.2946 0 119.51 1191.30)" fill="#111" font-family="Liberation Sans" font-size="100"><tspan font-style="italic">g</tspan><tspan font-size="66" dy="-42">(2)</tspan><tspan dy="42"> </tspan><tspan font-family="Liberation Serif">(<tspan font-style="italic">τ</tspan>)</tspan></text>
<text transform="matrix(0.2954 0 0 0.2901 154.02 105.41)" fill="#111" font-family="Liberation Sans" font-size="100" text-anchor="start">0.3</text>
<text transform="matrix(0.2954 0 0 0.2901 154.02 288.36)" fill="#111" font-family="Liberation Sans" font-size="100" text-anchor="start">0.2</text>
<text transform="matrix(0.2954 0 0 0.2901 154.02 471.31)" fill="#111" font-family="Liberation Sans" font-size="100" text-anchor="start">0.1</text>
<text transform="matrix(0.2954 0 0 0.2901 154.02 654.26)" fill="#111" font-family="Liberation Sans" font-size="100" text-anchor="start">0.0</text>
<text transform="matrix(0.2954 0 0 0.2901 200.20 686.41)" fill="#111" font-family="Liberation Sans" font-size="100" text-anchor="middle">0.0</text>
<text transform="matrix(0.2954 0 0 0.2901 315.00 686.41)" fill="#111" font-family="Liberation Sans" font-size="100" text-anchor="middle">0.2</text>
<text transform="matrix(0.2954 0 0 0.2901 429.80 686.41)" fill="#111" font-family="Liberation Sans" font-size="100" text-anchor="middle">0.4</text>
<text transform="matrix(0.2954 0 0 0.2901 544.60 686.41)" fill="#111" font-family="Liberation Sans" font-size="100" text-anchor="middle">0.6</text>
<text transform="matrix(0.2954 0 0 0.2901 659.40 686.41)" fill="#111" font-family="Liberation Sans" font-size="100" text-anchor="middle">0.8</text>
<text transform="matrix(0.2954 0 0 0.2901 774.20 686.41)" fill="#111" font-family="Liberation Sans" font-size="100" text-anchor="middle">1.0</text>
<text transform="matrix(0.2954 0 0 0.2901 857.00 114.11)" fill="#111" font-family="Liberation Sans" font-size="100" text-anchor="start">1000</text>
<text transform="matrix(0.2954 0 0 0.2901 857.00 244.28)" fill="#111" font-family="Liberation Sans" font-size="100" text-anchor="start">100</text>
<text transform="matrix(0.2954 0 0 0.2901 857.00 374.41)" fill="#111" font-family="Liberation Sans" font-size="100" text-anchor="start">10</text>
<text transform="matrix(0.2954 0 0 0.2901 857.00 504.61)" fill="#111" font-family="Liberation Sans" font-size="100" text-anchor="start">1</text>
<text transform="matrix(0.2954 0 0 0.2901 857.00 633.41)" fill="#111" font-family="Liberation Sans" font-size="100" text-anchor="start">0.1</text>
<text transform="matrix(0.2954 0 0 0.2901 183.60 1309.81)" fill="#111" font-family="Liberation Sans" font-size="100" text-anchor="end">1.0</text>
<text transform="matrix(0.2954 0 0 0.2901 183.60 1162.41)" fill="#111" font-family="Liberation Sans" font-size="100" text-anchor="end">1.2</text>
<text transform="matrix(0.2954 0 0 0.2901 183.60 1016.51)" fill="#111" font-family="Liberation Sans" font-size="100" text-anchor="end">1.4</text>
<text transform="matrix(0.2954 0 0 0.2901 308.50 1435.41)" fill="#111" font-family="Liberation Sans" font-size="100" text-anchor="middle">−20</text>
<text transform="matrix(0.2954 0 0 0.2901 538.20 1435.41)" fill="#111" font-family="Liberation Sans" font-size="100" text-anchor="middle">0</text>
<text transform="matrix(0.2954 0 0 0.2901 767.40 1435.41)" fill="#111" font-family="Liberation Sans" font-size="100" text-anchor="middle">20</text>
</svg>
</body></html>
